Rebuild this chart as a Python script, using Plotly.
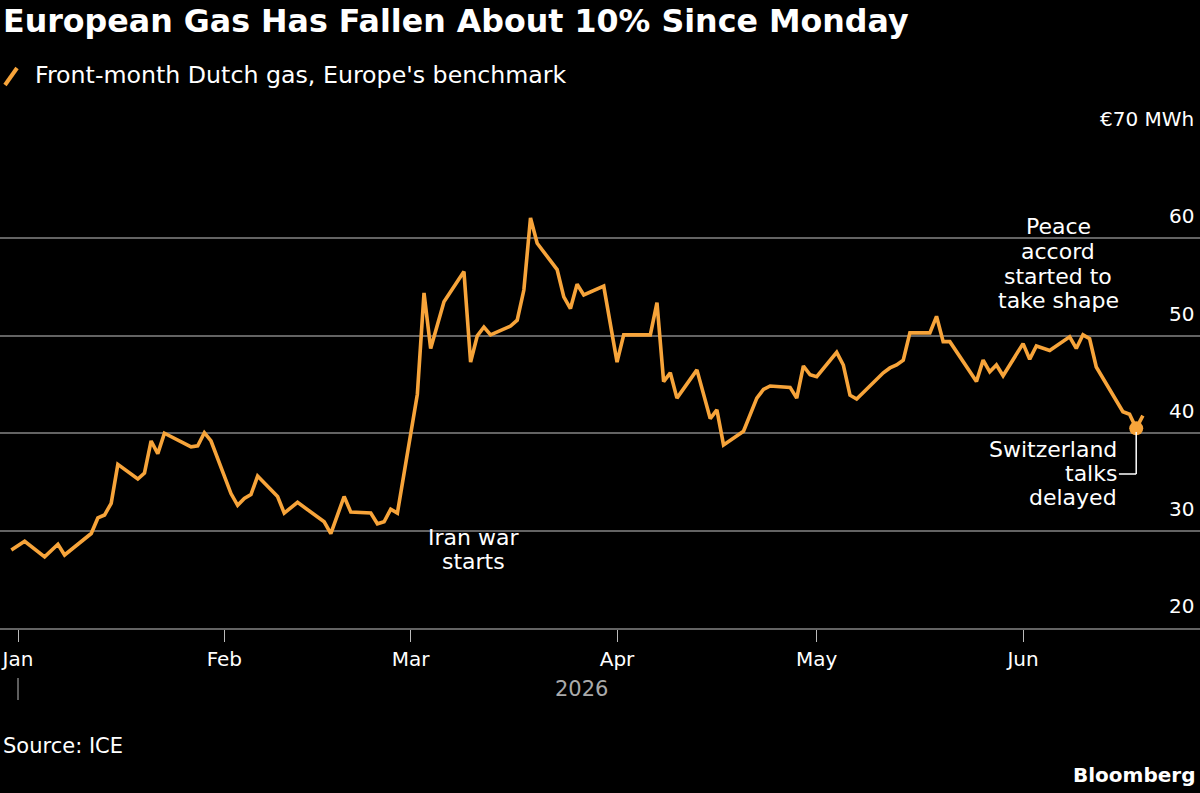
import pandas as pd
import plotly.graph_objects as go

# ---------------- data ----------------
SERIES_NAME = "Front-month Dutch gas, Europe's benchmark"
dates = [
    "2025-12-31", "2026-01-02", "2026-01-05", "2026-01-07", "2026-01-08", "2026-01-12",
    "2026-01-13", "2026-01-14", "2026-01-15", "2026-01-16", "2026-01-19", "2026-01-20",
    "2026-01-21", "2026-01-22", "2026-01-23", "2026-01-27", "2026-01-28", "2026-01-29",
    "2026-01-30", "2026-02-02", "2026-02-03", "2026-02-04", "2026-02-05", "2026-02-06",
    "2026-02-09", "2026-02-10", "2026-02-12", "2026-02-16", "2026-02-17", "2026-02-19",
    "2026-02-20", "2026-02-23", "2026-02-24", "2026-02-25", "2026-02-26", "2026-02-27",
    "2026-03-02", "2026-03-03", "2026-03-04", "2026-03-06", "2026-03-09", "2026-03-10",
    "2026-03-11", "2026-03-12", "2026-03-13", "2026-03-16", "2026-03-17", "2026-03-18",
    "2026-03-19", "2026-03-20", "2026-03-23", "2026-03-24", "2026-03-25", "2026-03-26",
    "2026-03-27", "2026-03-30", "2026-04-01", "2026-04-02", "2026-04-06", "2026-04-07",
    "2026-04-08", "2026-04-09", "2026-04-10", "2026-04-13", "2026-04-15", "2026-04-16",
    "2026-04-17", "2026-04-20", "2026-04-22", "2026-04-23", "2026-04-24", "2026-04-27",
    "2026-04-28", "2026-04-29", "2026-04-30", "2026-05-01", "2026-05-04", "2026-05-05",
    "2026-05-06", "2026-05-07", "2026-05-11", "2026-05-12", "2026-05-13", "2026-05-14",
    "2026-05-15", "2026-05-18", "2026-05-19", "2026-05-20", "2026-05-21", "2026-05-25",
    "2026-05-26", "2026-05-27", "2026-05-28", "2026-05-29", "2026-06-01", "2026-06-02",
    "2026-06-03", "2026-06-05", "2026-06-08", "2026-06-09", "2026-06-10", "2026-06-11",
    "2026-06-12", "2026-06-15", "2026-06-16", "2026-06-17", "2026-06-18", "2026-06-19",
]
prices = [
    28.0, 28.9, 27.3, 28.6, 27.5, 29.7,
    31.3, 31.6, 32.8, 36.8, 35.3, 35.9,
    39.2, 37.9, 40.0, 38.6, 38.7, 40.05,
    39.2, 33.8, 32.6, 33.3, 33.7, 35.6,
    33.5, 31.8, 32.9, 30.9, 29.7, 33.5,
    31.9, 31.8, 30.7, 30.9, 32.2, 31.8,
    44.0, 54.4, 48.7, 53.5, 56.6, 47.3,
    50.0, 50.9, 50.1, 51.0, 51.6, 54.7,
    62.1, 59.5, 56.8, 54.0, 52.8, 55.3,
    54.2, 55.1, 47.3, 50.1, 50.1, 53.4,
    45.3, 46.2, 43.6, 46.5, 41.5, 42.4,
    38.8, 40.2, 43.6, 44.5, 44.85, 44.7,
    43.6, 46.9, 46.0, 45.8, 48.3, 47.0,
    43.9, 43.5, 46.2, 46.7, 47.0, 47.5,
    50.3, 50.3, 52.0, 49.4, 49.4, 45.3,
    47.5, 46.3, 47.0, 45.9, 49.2, 47.6,
    48.95, 48.5, 49.9, 48.7, 50.1, 49.7,
    46.8, 43.4, 42.2, 41.95, 40.5, 41.8,
]
y_ticks = [20, 30, 40, 50, 60, 70]
y_tick_labels = ["20", "30", "40", "50", "60", "€70 MWh"]
year_label = "2026"

event_iran = ["Iran war", "starts"]
event_peace = ["Peace", "accord", "started to", "take shape"]
event_swiss = ["Switzerland", "talks", "delayed"]
event_swiss_date = "2026-06-18"
event_swiss_value = 40.5

# ---------------- styling helpers ----------------
W, H = 1200, 793
T, B = 141, 165
PH = H - T - B
ORANGE = "#F7A43A"
GRID = "#636363"
FONT = "DejaVu Sans"


def px(p):
    return p / W


def py(p):
    return (H - B - p) / PH


ann = []
shapes = []

# title
ann.append(dict(text="European Gas Has Fallen About 10% Since Monday", x=px(1), y=py(21),
                xref="paper", yref="paper", xanchor="left", yanchor="middle", showarrow=False,
                font=dict(family=FONT, size=31.7, color="white", weight="bold")))
# legend entry
shapes.append(dict(type="line", xref="paper", yref="paper", x0=px(5), y0=py(85), x1=px(17), y1=py(68),
                   line=dict(color=ORANGE, width=4)))
ann.append(dict(text=SERIES_NAME, x=px(33), y=py(75), xref="paper", yref="paper",
                xanchor="left", yanchor="middle", showarrow=False,
                font=dict(family=FONT, size=23.7, color="white")))

# y labels (right side, above gridlines)
for v, lab in zip(y_ticks, y_tick_labels):
    ann.append(dict(text=lab, x=px(1196), y=v, xref="paper", yref="y", xanchor="right",
                    yanchor="bottom", yshift=8, showarrow=False,
                    font=dict(family=FONT, size=20, color="white")))

# event annotations (one per line for tight line spacing)
for i, line in enumerate(event_iran):
    ann.append(dict(text=line, x=px(473), y=py(537 + 24.5 * i), xref="paper", yref="paper",
                    xanchor="center", yanchor="middle", showarrow=False,
                    font=dict(family=FONT, size=22, color="white")))
for i, line in enumerate(event_peace):
    ann.append(dict(text=line, x=px(1058), y=py(227 + 24.6 * i), xref="paper", yref="paper",
                    xanchor="center", yanchor="middle", showarrow=False,
                    font=dict(family=FONT, size=22, color="white")))
for i, line in enumerate(event_swiss):
    ann.append(dict(text=line, x=px(1119), y=py(449 + 24.5 * i), xref="paper", yref="paper",
                    xanchor="right", yanchor="middle", showarrow=False,
                    font=dict(family=FONT, size=22, color="white")))

# leader line for Switzerland annotation
ev_x = pd.Timestamp(event_swiss_date)
shapes.append(dict(type="line", xref="x", yref="paper", x0=ev_x, x1=ev_x,
                   y0=py(432), y1=py(474), line=dict(color="white", width=1.5)))
shapes.append(dict(type="line", xref="x", yref="paper", x0=ev_x, x1=ev_x - pd.Timedelta(days=2.6),
                   y0=py(474), y1=py(474), line=dict(color="white", width=1.5)))

# year marker
shapes.append(dict(type="line", xref="x", yref="paper", x0="2026-01-01", x1="2026-01-01",
                   y0=py(678), y1=py(700), line=dict(color="#bbbbbb", width=1)))
ann.append(dict(text=year_label, x=px(581), y=py(689), xref="paper", yref="paper",
                xanchor="center", yanchor="middle", showarrow=False,
                font=dict(family=FONT, size=21, color="#aaaaaa")))

# footer
ann.append(dict(text="Source: ICE", x=px(1), y=py(746), xref="paper", yref="paper",
                xanchor="left", yanchor="middle", showarrow=False,
                font=dict(family=FONT, size=21, color="white")))
ann.append(dict(text="Bloomberg", x=px(1197), y=py(775), xref="paper", yref="paper",
                xanchor="right", yanchor="middle", showarrow=False,
                font=dict(family=FONT, size=20, color="white", weight="bold")))

# ---------------- figure ----------------
fig = go.Figure()
fig.add_trace(go.Scatter(x=pd.to_datetime(dates), y=prices, mode="lines", name=SERIES_NAME,
                         line=dict(color=ORANGE, width=3.6), showlegend=False,
                         hoverinfo="x+y"))
fig.add_trace(go.Scatter(x=[pd.Timestamp(event_swiss_date)], y=[event_swiss_value], mode="markers",
                         marker=dict(color=ORANGE, size=14), showlegend=False, hoverinfo="skip"))

jan1 = pd.Timestamp("2026-01-01")
x_left = jan1 - pd.Timedelta(days=18 / 6.656)
x_right = jan1 + pd.Timedelta(days=(W - 18) / 6.656)

fig.update_layout(
    width=W, height=H,
    margin=dict(l=0, r=0, t=T, b=B, pad=0),
    paper_bgcolor="black", plot_bgcolor="black",
    font=dict(family=FONT, color="white"),
    annotations=ann, shapes=shapes,
    xaxis=dict(
        type="date", range=[x_left, x_right],
        tickmode="linear", tick0="2026-01-01", dtick="M1", tickformat="%b",
        ticks="outside", ticklen=12, tickwidth=1, tickcolor="#bbbbbb",
        showgrid=False, zeroline=False,
        showline=True, linecolor=GRID, linewidth=2,
        tickfont=dict(family=FONT, size=20, color="white"),
        ticklabelstandoff=0,
    ),
    yaxis=dict(
        range=[20, 70], side="right", tickmode="array", tickvals=y_ticks,
        showticklabels=False, ticks="", showgrid=True, gridcolor=GRID, gridwidth=1.5,
        zeroline=False, showline=False,
    ),
)

fig.write_html("out.html")
